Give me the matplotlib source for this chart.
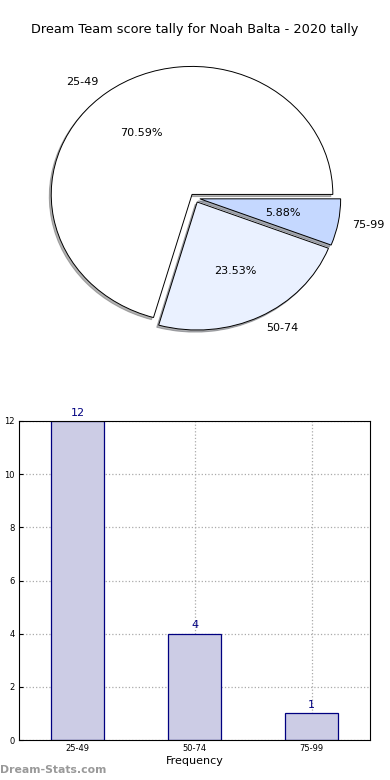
import matplotlib
matplotlib.use("Agg")
import matplotlib.pyplot as plt

ranges = ["25-49", "50-74", "75-99"]
counts = [12, 4, 1]
slice_colors = ["#ffffff", "#eaf1ff", "#c5d8ff"]
title = "Dream Team score tally for Noah Balta - 2020 tally"

fig = plt.figure(figsize=(3.9, 7.8), dpi=100)

# pie on top, stretched like the original (no equal aspect)
ax1 = fig.add_axes([19/390, 1-358/780, 352/390, 320/780])
wedges, texts, autotexts = ax1.pie(counts, labels=ranges, colors=slice_colors,
    autopct="%1.2f%%", explode=[0.035]*3,
    shadow=dict(ox=-0.01, oy=-0.012, shade=0.6), startangle=0,
    wedgeprops=dict(edgecolor="black", linewidth=0.7),
    textprops=dict(fontsize=8))
ax1.set_aspect("auto")
ax1.set_xlim(-1.25, 1.25); ax1.set_ylim(-1.25, 1.25)
fig.text(0.5, 1-30/780, title, ha="center", va="center", fontsize=9.3)

# bar chart below
ax2 = fig.add_axes([19/390, 40/780, 351/390, 319/780])
x = range(len(ranges))
ax2.bar(x, counts, width=0.45, color="#ccccE5", edgecolor="#000080", linewidth=0.9, zorder=2)
for i, c in zip(x, counts):
    ax2.text(i, c + 0.12, str(c), ha="center", va="bottom", fontsize=8, color="#000080")
ax2.set_xlim(-0.5, 2.5); ax2.set_ylim(0, 12)
ax2.set_xticks(list(x)); ax2.set_xticklabels(ranges)
ax2.set_yticks(range(0, 13, 2))
ax2.tick_params(labelsize=6, direction="in", length=3, pad=3)
ax2.grid(True, linestyle=":", color="#aaaaaa", linewidth=0.9)
for s in ax2.spines.values():
    s.set_zorder(3)
ax2.set_xlabel("Frequency", fontsize=8, labelpad=2)
ax2.set_ylabel("Scores Tally", fontsize=8)
ax2.yaxis.set_label_coords(-0.05, 0.5)

fig.text(0.0, 1-770/780, "Dream-Stats.com", ha="left", va="center", fontsize=7.8,
         color="#999999", fontweight="bold")

fig.savefig("out.png", dpi=100)
